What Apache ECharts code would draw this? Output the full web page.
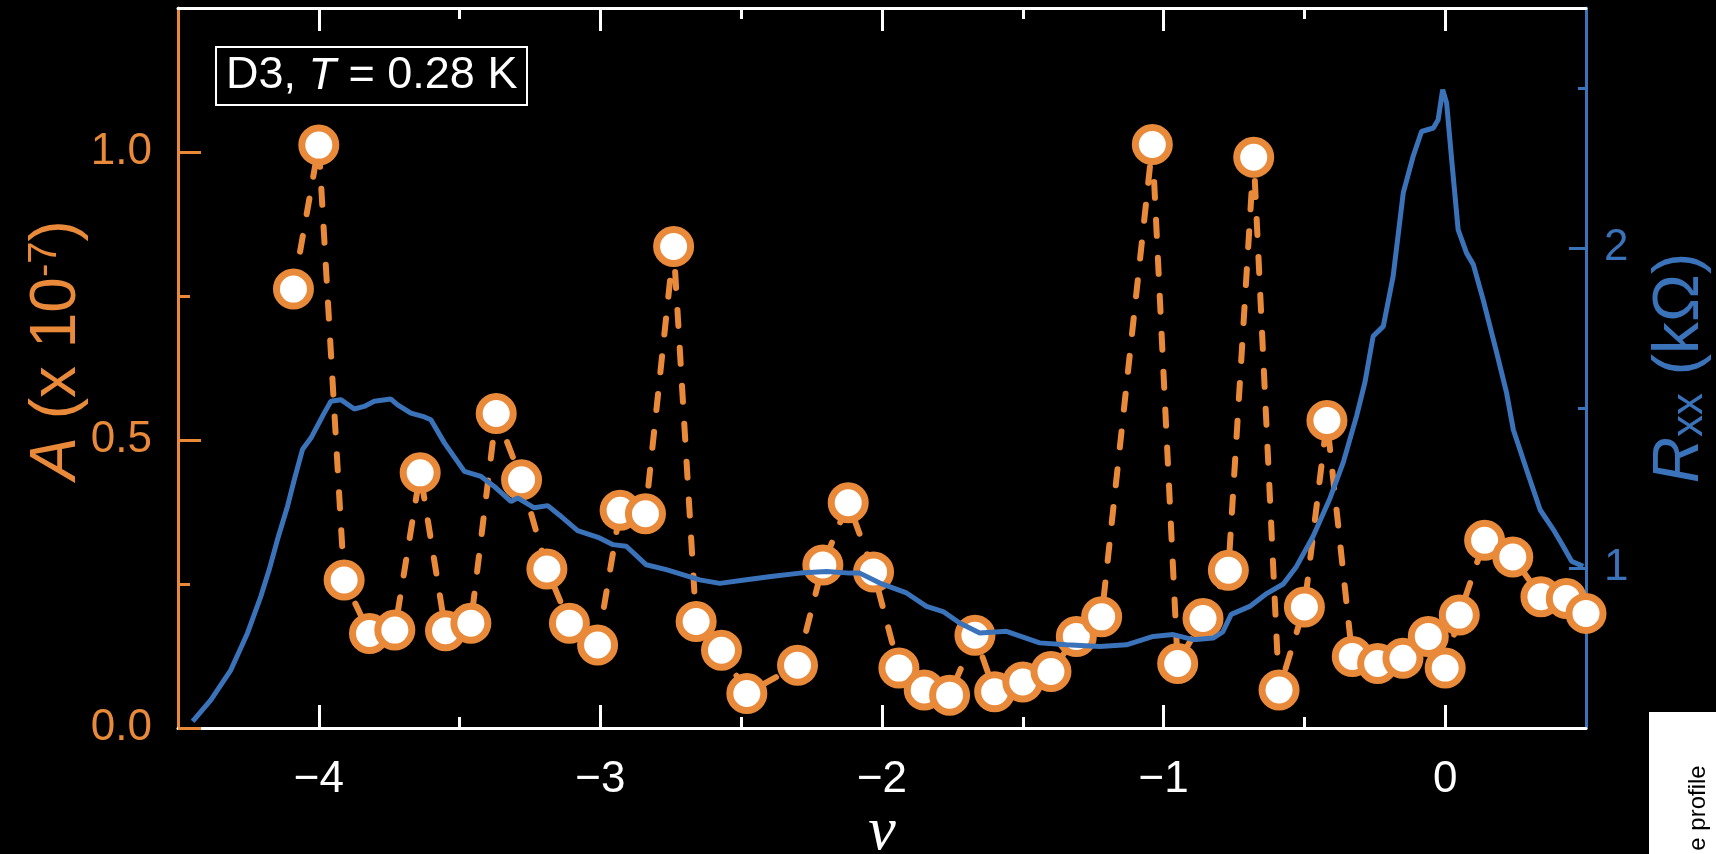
<!DOCTYPE html>
<html><head><meta charset="utf-8">
<script src="https://cdn.jsdelivr.net/npm/echarts@6/dist/echarts.min.js"></script>
<style>html,body{margin:0;padding:0;background:#000;}#c{width:1716px;height:854px;}</style>
</head><body><div id="c"></div>
<script>
// ---- data ----
const nuA = [-4.09,-4.00,-3.91,-3.82,-3.73,-3.64,-3.55,-3.46,-3.37,-3.28,-3.19,-3.11,-3.01,-2.93,-2.84,-2.74,-2.66,-2.57,-2.48,-2.30,-2.21,-2.12,-2.03,-1.94,-1.85,-1.76,-1.67,-1.60,-1.50,-1.40,-1.31,-1.22,-1.04,-0.95,-0.86,-0.77,-0.68,-0.59,-0.50,-0.42,-0.33,-0.24,-0.15,-0.06,0.00,0.05,0.14,0.24,0.34,0.43,0.50];
const ampA = [0.762,1.012,0.257,0.164,0.170,0.443,0.169,0.182,0.546,0.431,0.276,0.182,0.144,0.378,0.372,0.836,0.185,0.135,0.060,0.109,0.283,0.391,0.271,0.104,0.066,0.057,0.161,0.063,0.080,0.098,0.159,0.193,1.013,0.112,0.190,0.274,0.991,0.066,0.210,0.534,0.124,0.112,0.121,0.159,0.104,0.196,0.326,0.297,0.228,0.225,0.199];

const nuR = [-4.448,-4.383,-4.312,-4.253,-4.206,-4.176,-4.147,-4.111,-4.087,-4.058,-4.028,-3.981,-3.957,-3.922,-3.874,-3.839,-3.803,-3.744,-3.720,-3.673,-3.625,-3.602,-3.554,-3.483,-3.424,-3.377,-3.318,-3.294,-3.235,-3.187,-3.145,-3.081,-3.003,-2.955,-2.908,-2.837,-2.766,-2.647,-2.576,-2.482,-2.387,-2.292,-2.197,-2.115,-2.079,-2.008,-1.913,-1.842,-1.783,-1.724,-1.653,-1.558,-1.440,-1.345,-1.227,-1.132,-1.037,-0.966,-0.895,-0.824,-0.790,-0.760,-0.694,-0.634,-0.575,-0.528,-0.469,-0.409,-0.362,-0.315,-0.285,-0.256,-0.220,-0.185,-0.149,-0.114,-0.084,-0.042,-0.025,-0.009,0.005,0.023,0.046,0.076,0.100,0.135,0.183,0.218,0.242,0.289,0.337,0.384,0.419,0.449,0.490];
const rxx = [0.521,0.588,0.682,0.797,0.911,0.995,1.088,1.193,1.276,1.370,1.406,1.484,1.521,1.526,1.497,1.505,1.521,1.528,1.510,1.484,1.472,1.463,1.391,1.302,1.286,1.255,1.208,1.219,1.188,1.195,1.165,1.117,1.094,1.073,1.068,1.010,0.995,0.963,0.952,0.963,0.974,0.984,0.989,0.984,0.984,0.953,0.922,0.880,0.864,0.828,0.797,0.802,0.766,0.760,0.755,0.760,0.786,0.792,0.776,0.781,0.800,0.855,0.880,0.920,0.950,1.005,1.099,1.218,1.330,1.474,1.580,1.724,1.755,1.911,2.172,2.286,2.364,2.375,2.401,2.495,2.453,2.276,2.057,1.984,1.948,1.838,1.672,1.547,1.432,1.307,1.182,1.120,1.068,1.021,1.005];

const xMajorTicks = [-4,-3,-2,-1,0];
const xMinorTicks = [-3.5,-2.5,-1.5,-0.5];
const aMajorTicks = [0,0.5,1.0];
const aMinorTicks = [0.25,0.75];
const rMajorTicks = [1,2];
const rMinorTicks = [1.5,2.5];

// ---- styling ----
const ORANGE = '#E98A3B';
const BLUE = '#3A73B9';
const FONT = 'Liberation Sans';

const chart = echarts.init(document.getElementById('c'), null, {renderer:'canvas'});

function xAx(pos, ticks, len, withLine, withLabels, extra) {
  return Object.assign({
    type:'value', position:pos, min:-4.5, max:0.5,
    axisLine:{show:withLine, onZero:false, lineStyle:{color:'#fff', width:3}},
    axisTick:{show:true, inside:true, length:len, customValues:ticks, lineStyle:{color:'#fff', width:3}},
    axisLabel:{show:withLabels, customValues:ticks, color:'#fff', fontSize:44, fontFamily:FONT, margin:30,
      formatter:v=>String(v).replace('-', '\u2212')},
    splitLine:{show:false}
  }, extra||{});
}
function yAx(pos, mn, mx, color, ticks, len, withLine, withLabels, fmt, margin, extra) {
  return Object.assign({
    type:'value', position:pos, min:mn, max:mx,
    axisLine:{show:withLine, onZero:false, lineStyle:{color:color, width:3}},
    axisTick:{show:true, inside:true, length:len, customValues:ticks, lineStyle:{color:color, width:3}},
    axisLabel:{show:withLabels, customValues:ticks, color:color, fontSize:44, fontFamily:FONT, margin:margin, formatter:fmt},
    splitLine:{show:false}
  }, extra||{});
}

const option = {
  backgroundColor:'#000',
  animation:false,
  grid:{left:178, top:8, width:1408, height:720, containLabel:false, outerBoundsMode:'none'},
  title:{
    text:'{n|D3, }{i|T}{n| = 0.28 K}',
    left:216, top:43, padding:[7,10,7,10],
    borderColor:'#fff', borderWidth:2,
    textStyle:{fontWeight:'normal', rich:{
      n:{color:'#fff', fontSize:45, fontFamily:FONT, fontWeight:'normal', lineHeight:52},
      i:{color:'#fff', fontSize:45, fontFamily:FONT, fontWeight:'normal', fontStyle:'italic', lineHeight:52}
    }}
  },
  xAxis:[
    xAx('bottom', xMajorTicks, 23, true, true, {
      name:'ν', nameLocation:'middle', nameGap:74, nameMoveOverlap:false,
      nameTextStyle:{color:'#fff', fontSize:62, fontFamily:'Liberation Serif', fontStyle:'italic'}
    }),
    xAx('bottom', xMinorTicks, 11, false, false),
    xAx('top', xMajorTicks, 23, true, false),
    xAx('top', xMinorTicks, 11, false, false)
  ],
  yAxis:[
    yAx('left', 0, 1.25, ORANGE, aMajorTicks, 23, true, true, v=>v.toFixed(1), 26, {
      name:'{i|A} (x 10{s|-7})', nameLocation:'middle', nameRotate:90, nameGap:89, nameMoveOverlap:false,
      nameTextStyle:{color:ORANGE, fontSize:64, fontFamily:FONT, padding:[0,0,0,36], rich:{
        i:{color:ORANGE, fontSize:64, fontFamily:FONT, fontStyle:'italic'},
        s:{color:ORANGE, fontSize:40, fontFamily:FONT, verticalAlign:'top'}
      }}
    }),
    yAx('right', 0.5, 2.75, BLUE, rMajorTicks, 17, true, true, v=>String(v), 18, {
      name:'{i|R}{b|xx} (kΩ)', nameLocation:'middle', nameRotate:90, nameGap:62, nameMoveOverlap:false,
      nameTextStyle:{color:BLUE, fontSize:64, fontFamily:FONT, rich:{
        i:{color:BLUE, fontSize:64, fontFamily:FONT, fontStyle:'italic'},
        b:{color:BLUE, fontSize:44, fontFamily:FONT, verticalAlign:'bottom'}
      }}
    }),
    yAx('left', 0, 1.25, ORANGE, aMinorTicks, 12, false, false, null, 26),
    yAx('right', 0.5, 2.75, BLUE, rMinorTicks, 8, false, false, null, 18)
  ],
  series:[
    {
      type:'line', xAxisIndex:0, yAxisIndex:0,
      data: nuA.map((x,i)=>[x, ampA[i]]),
      symbol:'circle', symbolSize:34, showSymbol:true,
      lineStyle:{color:ORANGE, width:6, type:[16,22], cap:'round'},
      itemStyle:{color:'#fff', borderColor:ORANGE, borderWidth:7},
      z:3
    },
    {
      type:'line', xAxisIndex:0, yAxisIndex:1,
      data: nuR.map((x,i)=>[x, rxx[i]]),
      symbol:'none', showSymbol:false,
      lineStyle:{color:BLUE, width:5},
      z:4
    }
  ],
  graphic:[
    {type:'rect', left:1649, top:712, shape:{width:67, height:142}, style:{fill:'#fff'}},
    {type:'text', x:1698, y:808, rotation:Math.PI/2,
      style:{text:'e profile', fill:'#000', font:'24px "Liberation Sans"', align:'center', verticalAlign:'middle'}}
  ]
};
chart.setOption(option);
</script>
</body></html>
